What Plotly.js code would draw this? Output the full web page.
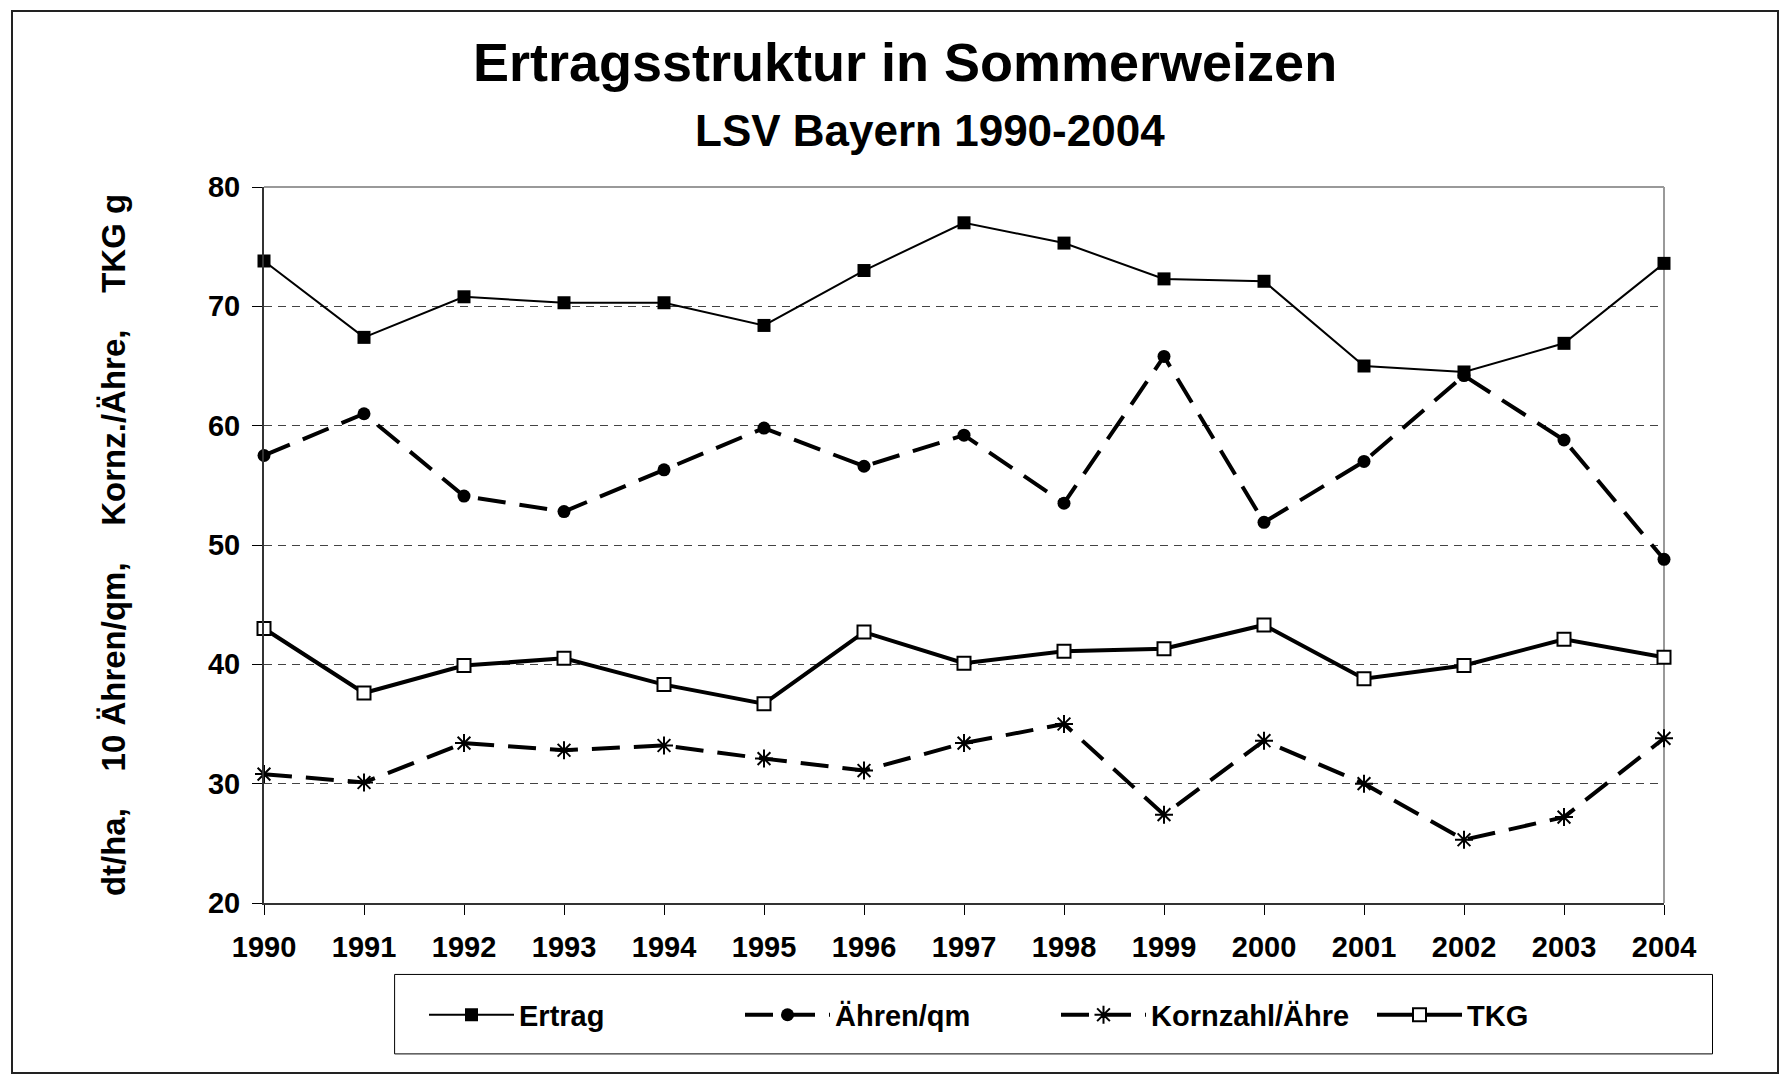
<!DOCTYPE html>
<html>
<head>
<meta charset="utf-8">
<script src="https://cdn.plot.ly/plotly-3.0.1.min.js"></script>
<style>
  html, body { margin: 0; padding: 0; background: #fff; }
  #chart { width: 1783px; height: 1078px; position: absolute; left: 0; top: 0; }
  #frame { position: absolute; left: 11px; top: 10px; width: 1768px; height: 1064px; border: 2px solid #222; pointer-events: none; box-sizing: border-box; }
</style>
</head>
<body>
<div id="chart"></div>
<div id="frame"></div>
<script>
const years = [1990,1991,1992,1993,1994,1995,1996,1997,1998,1999,2000,2001,2002,2003,2004];
const ertrag = [73.8,67.4,70.8,70.3,70.3,68.4,73.0,77.0,75.3,72.3,72.1,65.0,64.5,66.9,73.6];
const aehrenQm = [57.5,61.0,54.1,52.8,56.3,59.8,56.6,59.2,53.5,65.8,51.9,57.0,64.2,58.8,48.8];
const kornzahl = [30.8,30.1,33.4,32.8,33.2,32.1,31.1,33.4,35.0,27.4,33.6,30.0,25.3,27.2,33.8];
const tkg = [43.0,37.6,39.9,40.5,38.3,36.7,42.7,40.1,41.1,41.3,43.3,38.8,39.9,42.1,40.6];
const seriesNames = ["Ertrag","Ähren/qm","Kornzahl/Ähre","TKG"];

const dashLong = "28px,14px";
const traces = [
  {x: years, y: ertrag, name: seriesNames[0], type: "scatter", mode: "lines+markers", cliponaxis: false,
   line: {color: "#000", width: 2}, marker: {symbol: "square", size: 13, color: "#000"}},
  {x: years, y: aehrenQm, name: seriesNames[1], type: "scatter", mode: "lines+markers", cliponaxis: false,
   line: {color: "#000", width: 4, dash: dashLong}, marker: {symbol: "circle", size: 13, color: "#000"}},
  {x: years, y: kornzahl, name: seriesNames[2], type: "scatter", mode: "lines+markers", cliponaxis: false,
   line: {color: "#000", width: 4, dash: dashLong}, marker: {symbol: "asterisk-open", size: 15, color: "#000", line: {color: "#000", width: 2}}},
  {x: years, y: tkg, name: seriesNames[3], type: "scatter", mode: "lines+markers", cliponaxis: false,
   line: {color: "#000", width: 4}, marker: {symbol: "square", size: 13, color: "#fff", line: {color: "#000", width: 2}}}
];

const fontFam = "Liberation Sans, Arial, sans-serif";
const plotL = 264, plotR = 1664, plotT = 186.5, plotB = 903;
const pw = plotR - plotL, ph = plotB - plotT;
const layout = {
  width: 1783, height: 1078,
  paper_bgcolor: "#fff", plot_bgcolor: "#fff",
  margin: {l: plotL, r: 1783 - plotR, t: plotT, b: 1078 - plotB, pad: 0},
  font: {family: fontFam, color: "#000"},
  title: {text: "<b>Ertragsstruktur in Sommerweizen</b>", font: {size: 54, family: fontFam, color: "#000"},
          x: 905/1783, xanchor: "center", xref: "container", y: 1 - 62/1078, yanchor: "middle", yref: "container"},
  annotations: [
    {text: "<b>LSV Bayern 1990-2004</b>", xref: "paper", yref: "paper", x: (930-plotL)/pw, y: 1 + (plotT-130)/ph,
     xanchor: "center", yanchor: "middle", showarrow: false, font: {size: 44, family: fontFam, color: "#000"}}
  ],
  xaxis: {
    range: [1990, 2004], tickvals: years, ticktext: years.map(String),
    showgrid: false, zeroline: false,
    showline: true, linecolor: "#333", linewidth: 2,
    ticks: "outside", ticklen: 10, tickwidth: 1, tickcolor: "#000",
    tickfont: {size: 29, family: fontFam, color: "#000", weight: "bold"},
    ticklabelstandoff: 7
  },
  yaxis: {
    range: [20, 80], dtick: 10, tick0: 20,
    showgrid: true, gridcolor: "#444", gridwidth: 1, griddash: "8px,6px",
    zeroline: false,
    showline: true, linecolor: "#333", linewidth: 2,
    ticks: "outside", ticklen: 10, tickwidth: 1, tickcolor: "#000",
    tickfont: {size: 29, family: fontFam, color: "#000", weight: "bold"},
    ticklabelstandoff: 6,
    title: {text: "<b>dt/ha,\u00a0\u00a0\u00a0 10 Ähren/qm,\u00a0\u00a0\u00a0 Kornz./Ähre,\u00a0\u00a0\u00a0 TKG g</b>",
            font: {size: 33, family: fontFam, color: "#000"}, standoff: 72}
  },
  shapes: [
    {type: "line", xref: "paper", yref: "paper", x0: 0, x1: 1, y0: 1, y1: 1, line: {color: "#999", width: 2}, layer: "below"},
    {type: "line", xref: "paper", yref: "paper", x0: 1, x1: 1, y0: 0, y1: 1, line: {color: "#999", width: 2}, layer: "below"},
    {type: "rect", xref: "paper", yref: "paper",
     x0: (394.6-plotL)/pw, x1: (1712.5-plotL)/pw, y0: (plotB-974.5)/ph, y1: (plotB-1054)/ph,
     line: {color: "#000", width: 1}, fillcolor: "rgba(0,0,0,0)"}
  ],
  showlegend: true,
  legend: {
    orientation: "h", x: (424-plotL)/pw, xanchor: "left", y: (plotB-1015)/ph, yanchor: "middle",
    borderwidth: 0, bgcolor: "rgba(0,0,0,0)",
    font: {size: 29, family: fontFam, color: "#000", weight: "bold"},
    itemwidth: 85, entrywidth: 216, entrywidthmode: "pixels", traceorder: "normal"
  }
};

Plotly.newPlot("chart", traces, layout, {displayModeBar: false, staticPlot: true});
</script>
</body>
</html>
